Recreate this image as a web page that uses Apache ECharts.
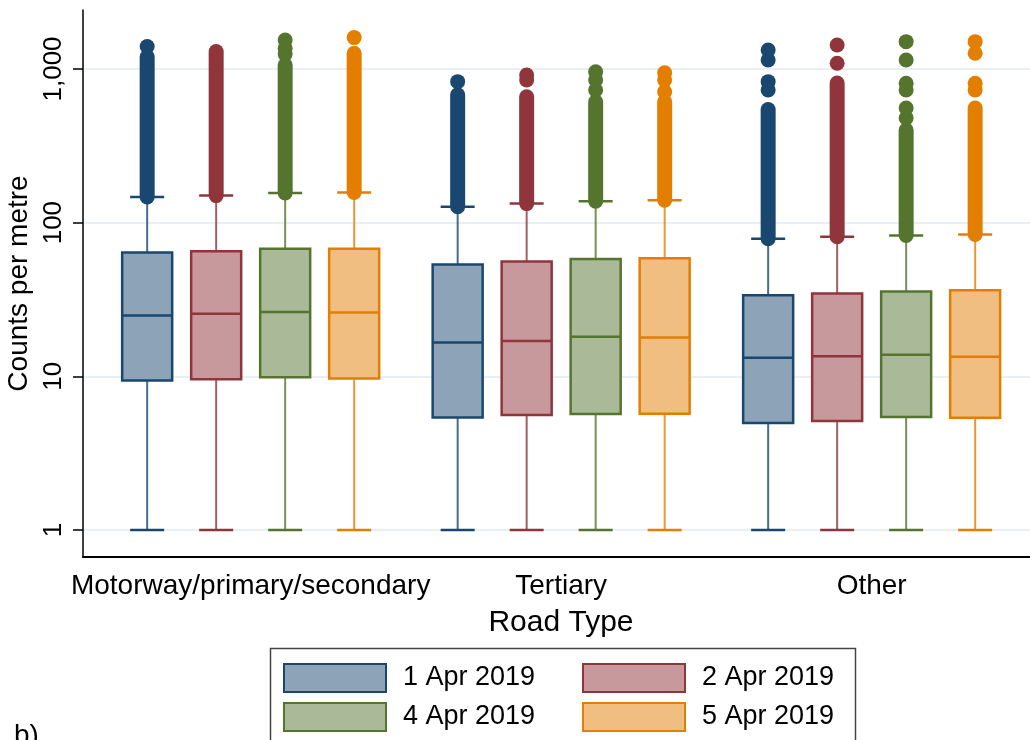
<!DOCTYPE html>
<html>
<head>
<meta charset="utf-8">
<script src="https://cdn.jsdelivr.net/npm/echarts@6/dist/echarts.min.js"></script>
<style>
  html, body { margin: 0; padding: 0; background: #fff; }
  #chart { width: 1030px; height: 740px; }
</style>
</head>
<body>
<div id="chart"></div>
<script>
const roadTypes = ['Motorway/primary/secondary', 'Tertiary', 'Other']
const dates = ['1 Apr 2019', '2 Apr 2019', '4 Apr 2019', '5 Apr 2019']
const yTicks = [1, 10, 100, 1000]

// [lower whisker, Q1, median, Q3, upper whisker] for each road type
const box1Apr = [[1, 9.4, 24.9, 64, 147], [1, 5.4, 16.6, 53.4, 127], [1, 4.96, 13.2, 33.7, 78.5]]
const box2Apr = [[1, 9.56, 25.5, 65.2, 150], [1, 5.6, 17, 55.9, 133], [1, 5.11, 13.5, 34.6, 80.9]]
const box4Apr = [[1, 9.85, 26.2, 67.5, 156], [1, 5.68, 18.1, 58.1, 138], [1, 5.43, 13.8, 35.6, 82.6]]
const box5Apr = [[1, 9.66, 26, 67.5, 157], [1, 5.71, 17.9, 58.7, 140], [1, 5.38, 13.4, 36.3, 83.8]]

// top of the solid run of outliers above the upper whisker
const denseTop1Apr = [1200, 680, 545]
const denseTop2Apr = [1300, 660, 810]
const denseTop4Apr = [1060, 612, 400]
const denseTop5Apr = [1266, 612, 557]

// single outliers that stand apart above that run
const extra1Apr = [[1400], [827], [730, 827, 1145, 1330]]
const extra2Apr = [[], [847, 914], [1089, 1433]]
const extra4Apr = [[1250, 1364, 1545], [730, 847, 960], [480, 557, 730, 807, 1145, 1506]]
const extra5Apr = [[1600], [711, 847, 946], [730, 807, 1266, 1506]]

const boxes = [box1Apr, box2Apr, box4Apr, box5Apr]
const denseTops = [denseTop1Apr, denseTop2Apr, denseTop4Apr, denseTop5Apr]
const extras = [extra1Apr, extra2Apr, extra4Apr, extra5Apr]

const strokeColors = ['#1a476f', '#90353b', '#55752f', '#e37e00']
const fillColors = ['#8ca3b8', '#c8999c', '#aab997', '#f0be80']

// x slot of each box: 9 slots per road type, 2 slots between dates
const slotOf = (road, d) => road * 9 + d * 2
const groupCenters = roadTypes.map((r, i) => slotOf(i, 0) + 3)

const FONT = '"Liberation Sans", Arial, sans-serif'

function boxRenderer(d) {
  return function (params, api) {
    const x = api.value(0)
    const low = api.coord([x, api.value(1)])
    const q1 = api.coord([x, api.value(2)])
    const med = api.coord([x, api.value(3)])
    const q3 = api.coord([x, api.value(4)])
    const high = api.coord([x, api.value(5)])
    const cx = low[0]
    const half = 25
    const cap = 17
    const whisker = { stroke: strokeColors[d], lineWidth: 2, opacity: 0.8 }
    const solid = { stroke: strokeColors[d], lineWidth: 2.5 }
    return {
      type: 'group',
      children: [
        { type: 'line', shape: { x1: cx, y1: low[1], x2: cx, y2: q1[1] }, style: whisker },
        { type: 'line', shape: { x1: cx, y1: q3[1], x2: cx, y2: high[1] }, style: whisker },
        { type: 'line', shape: { x1: cx - cap, y1: low[1], x2: cx + cap, y2: low[1] }, style: solid },
        { type: 'line', shape: { x1: cx - cap, y1: high[1], x2: cx + cap, y2: high[1] }, style: solid },
        {
          type: 'rect',
          shape: { x: cx - half, y: q3[1], width: half * 2, height: q1[1] - q3[1] },
          style: { fill: fillColors[d], stroke: strokeColors[d], lineWidth: 2.5 }
        },
        { type: 'line', shape: { x1: cx - half, y1: med[1], x2: cx + half, y2: med[1] }, style: solid }
      ]
    }
  }
}

function columnRenderer(d) {
  return function (params, api) {
    const x = api.value(0)
    const a = api.coord([x, api.value(1)])
    const b = api.coord([x, api.value(2)])
    return {
      type: 'line',
      shape: { x1: a[0], y1: a[1], x2: b[0], y2: b[1] },
      style: { stroke: strokeColors[d], lineWidth: 15, lineCap: 'round' }
    }
  }
}

const series = []
dates.forEach((name, d) => {
  series.push({
    name,
    type: 'custom',
    renderItem: columnRenderer(d),
    itemStyle: { color: fillColors[d], borderColor: strokeColors[d] },
    data: roadTypes.map((r, i) => [slotOf(i, d), boxes[d][i][4], denseTops[d][i]]),
    encode: { x: 0, y: [1, 2] },
    silent: true
  })
  const dots = []
  roadTypes.forEach((r, i) => {
    extras[d][i].forEach(v => dots.push([slotOf(i, d), v]))
  })
  series.push({
    name,
    type: 'scatter',
    symbolSize: 15,
    itemStyle: { color: strokeColors[d], opacity: 1 },
    data: dots,
    silent: true
  })
})
dates.forEach((name, d) => {
  series.push({
    name,
    type: 'custom',
    renderItem: boxRenderer(d),
    itemStyle: { color: fillColors[d], borderColor: strokeColors[d] },
    data: roadTypes.map((r, i) => [slotOf(i, d)].concat(boxes[d][i])),
    encode: { x: 0, y: [1, 2, 3, 4, 5] },
    silent: true
  })
})

const legendSpots = [[283, 663], [582, 663], [283, 702], [582, 702]]
const legends = dates.map((name, d) => ({
  data: [{
    name,
    itemStyle: { color: fillColors[d], borderColor: strokeColors[d], borderWidth: 2 }
  }],
  left: legendSpots[d][0],
  top: legendSpots[d][1],
  padding: 0,
  icon: 'rect',
  itemWidth: 102,
  itemHeight: 28,
  selectedMode: false,
  textStyle: { fontSize: 27, color: '#000', fontFamily: FONT, padding: [0, 0, 0, 12] }
}))

const chart = echarts.init(document.getElementById('chart'))
chart.setOption({
  animation: false,
  backgroundColor: '#fff',
  textStyle: { fontFamily: FONT },
  grid: { left: 83, right: 0, top: 10, bottom: 183, outerBoundsMode: 'none' },
  legend: legends,
  xAxis: {
    type: 'value',
    min: -1.86,
    max: 25.59,
    axisLine: { show: true, onZero: false, lineStyle: { color: '#000', width: 2 } },
    axisTick: { show: false },
    splitLine: { show: false },
    axisLabel: {
      customValues: groupCenters,
      formatter: v => roadTypes[Math.round((v - 3) / 9)],
      fontSize: 28,
      color: '#000',
      margin: 15,
      fontFamily: FONT
    },
    name: 'Road Type',
    nameLocation: 'middle',
    nameGap: 51,
    nameTextStyle: { fontSize: 30, color: '#000', fontFamily: FONT, padding: [0, 0, 0, 9] }
  },
  yAxis: {
    type: 'log',
    logBase: 10,
    min: 0.667,
    max: 2420,
    axisLine: { show: true, onZero: false, lineStyle: { color: '#000', width: 1.5 } },
    axisTick: { show: true, length: 10, customValues: yTicks, lineStyle: { color: '#000', width: 1.5 } },
    axisLabel: {
      customValues: yTicks,
      rotate: 90,
      margin: 16,
      fontSize: 26,
      color: '#000',
      fontFamily: FONT,
      formatter: v => Number(v).toLocaleString('en-US')
    },
    splitLine: { show: true, lineStyle: { color: '#e9f0f3', width: 2 } },
    name: 'Counts per metre',
    nameLocation: 'middle',
    nameRotate: 90,
    nameGap: 49,
    nameTextStyle: { fontSize: 28, color: '#000', fontFamily: FONT }
  },
  graphic: [
    {
      type: 'rect',
      shape: { x: 270.5, y: 648.5, width: 585, height: 130 },
      style: { fill: 'none', stroke: '#444', lineWidth: 1.5 },
      silent: true
    },
    {
      type: 'text',
      left: 14,
      top: 722,
      style: { text: 'b)', fontSize: 28, fill: '#000', fontFamily: FONT },
      silent: true
    }
  ],
  series
})
</script>
</body>
</html>
